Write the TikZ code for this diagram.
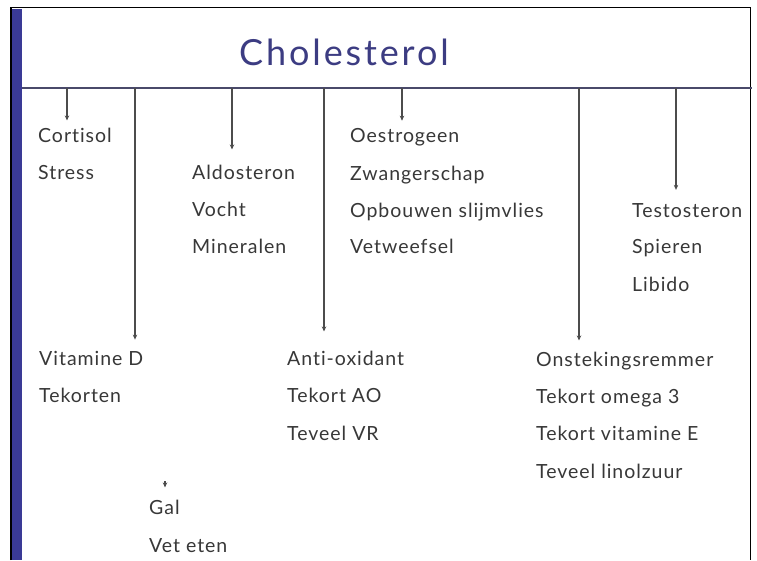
\documentclass[tikz,border=0pt]{standalone}
\usepackage{fontspec}
\setmainfont{Lato}[Ligatures=NoCommon, LetterSpace=5]
\newfontfamily\titlefont[LetterSpace=8, Ligatures=NoCommon]{Lato}
\usetikzlibrary{arrows.meta}
\definecolor{barblue}{HTML}{3A3A96}
\definecolor{titleblue}{HTML}{3C3C82}
\definecolor{txt}{HTML}{383838}
\definecolor{ruleline}{HTML}{4A4A6A}
\begin{document}
\begin{tikzpicture}[x=1pt,y=-1pt,
  item/.style={anchor=base west, inner sep=0pt, font=\fontsize{19.5}{22}\selectfont, text=txt},
  link/.style={draw=black!70, line width=1.1pt, -{Stealth[length=5pt,width=4.5pt]}},
]
\useasboundingbox (0,0) rectangle (757,560);
\fill[white] (0,0) rectangle (757,560);
% frame
\draw[line width=1.6pt] (11,560) -- (11,7.5) -- (750.5,7.5) -- (750.5,560);
\fill[barblue] (12,8.5) rectangle (22,560);
\node[anchor=base, font=\titlefont\fontsize{36}{40}\selectfont, text=titleblue, inner sep=0pt] (title) at (344,65) {Cholesterol};
\draw[ruleline, line width=1.2pt] (22,88) coordinate (r0) -- (752,88) coordinate (r1);
% branch points
\coordinate (a1) at (67,88);
\coordinate (a2) at (135,88);
\coordinate (a3) at (232,88);
\coordinate (a4) at (324,88);
\coordinate (a5) at (402,88);
\coordinate (a6) at (579,88);
\coordinate (a7) at (676,88);
\coordinate (g0) at (165,481);
% texts
\node[item] (cortisol) at (38,142) {Cortisol};
\node[item] (stress) at (38,179) {Stress};
\node[item] (aldo) at (192,179) {Aldosteron};
\node[item] (vocht) at (192,216) {Vocht};
\node[item] (mineralen) at (192,253) {Mineralen};
\node[item] (oestro) at (350,142) {Oestrogeen};
\node[item] (zwanger) at (350,180) {Zwangerschap};
\node[item] (opbouw) at (350,217) {Opbouwen slijmvlies};
\node[item] (vetweefsel) at (350,253) {Vetweefsel};
\node[item] (testo) at (632,217) {Testosteron};
\node[item] (spieren) at (632,253) {Spieren};
\node[item] (libido) at (632,291) {Libido};
\node[item] (vitd) at (39,365) {Vitamine D};
\node[item] (tekorten) at (39,402) {Tekorten};
\node[item] (antiox) at (287,365) {Anti-oxidant};
\node[item] (tekortao) at (287,402) {Tekort AO};
\node[item] (teveelvr) at (287,440) {Teveel VR};
\node[item] (onstek) at (536,366) {Onstekingsremmer};
\node[item] (omega) at (536,403) {Tekort omega 3};
\node[item] (vite) at (536,440) {Tekort vitamine E};
\node[item] (linol) at (536,478) {Teveel linolzuur};
\node[item] (gal) at (149,514) {Gal};
\node[item] (veteten) at (149,552) {Vet eten};
% arrows
\draw[link, shorten >=7pt] (a1) -- (a1 |- cortisol.north);
\draw[link, shorten >=11pt] (a2) -- (a2 |- vitd.north);
\draw[link, shorten >=15pt] (a3) -- (a3 |- aldo.north);
\draw[link, shorten >=19pt] (a4) -- (a4 |- antiox.north);
\draw[link, shorten >=7pt] (a5) -- (a5 |- oestro.north);
\draw[link, shorten >=11pt] (a6) -- (a6 |- onstek.north);
\draw[link, shorten >=13pt] (a7) -- (a7 |- testo.north);
\draw[link, shorten >=12pt] (g0) -- (g0 |- gal.north);
\end{tikzpicture}
\end{document}
